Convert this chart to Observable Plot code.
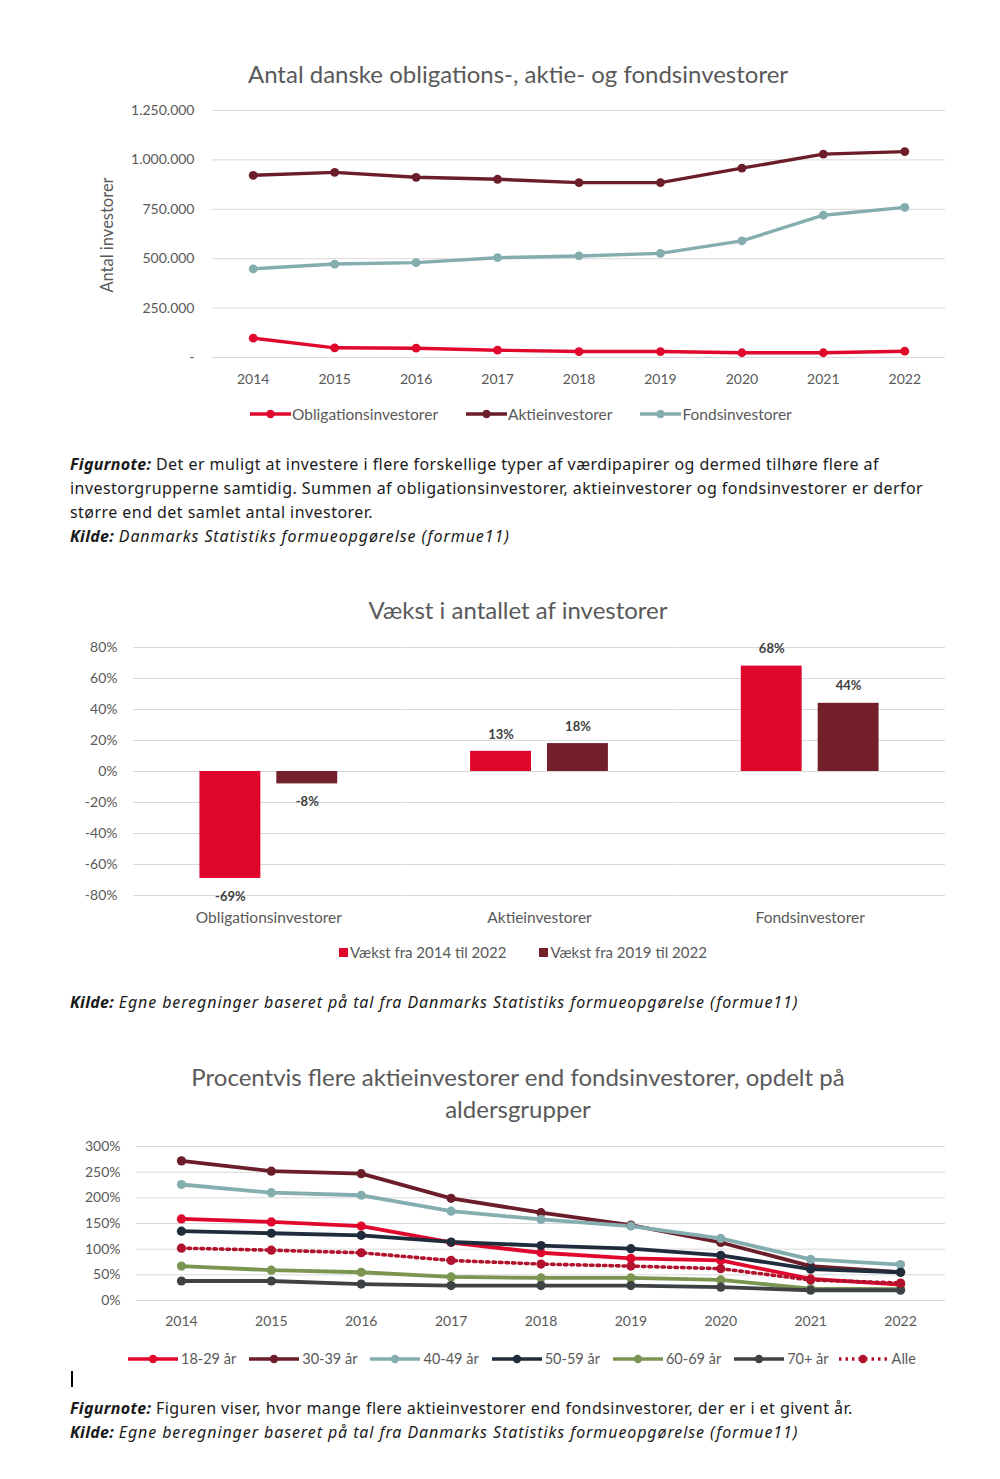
<!DOCTYPE html>
<html><head><meta charset="utf-8">
<script src="https://cdn.jsdelivr.net/npm/d3@7"></script>
<script src="https://cdn.jsdelivr.net/npm/@observablehq/plot@0.6"></script>
<style>
  html,body{margin:0;padding:0;background:#fff;}
  body{width:1000px;height:1479px;position:relative;overflow:hidden;font-family:Lato,"Open Sans",sans-serif;}
  .abs{position:absolute;}
  .title{left:0;width:1036px;text-align:center;color:#595959;font-size:24px;line-height:32px;}
  .note{left:70px;color:#1a1a1a;font-size:16px;line-height:24px;font-family:"Noto Sans",Lato,sans-serif;letter-spacing:0.45px;white-space:nowrap;}
  .note b{font-style:italic;letter-spacing:0.3px;}
  .note i{letter-spacing:0.9px;}
  .legend{color:#595959;font-size:15.5px;display:flex;align-items:center;white-space:nowrap;}
  .legend span.item{display:inline-flex;align-items:center;}
  svg text{font-family:Lato,"Open Sans",sans-serif;}
</style>
</head><body>
<div id="root"></div>
<script>
// ---------- Data ----------
const years = [2014, 2015, 2016, 2017, 2018, 2019, 2020, 2021, 2022];
const obligationsinvestorer = [98000, 49000, 47000, 37000, 30000, 30000, 24000, 24000, 32000];
const aktieinvestorer = [922000, 937000, 912000, 902000, 885000, 885000, 958000, 1029000, 1042000];
const fondsinvestorer = [449000, 473000, 480000, 505000, 514000, 527000, 590000, 720000, 760000];
const series1Names = ["Obligationsinvestorer", "Aktieinvestorer", "Fondsinvestorer"];
const series1Colors = ["#E0082C", "#6B1E2A", "#84ADB0"];
const yTicks1 = [0, 250000, 500000, 750000, 1000000, 1250000];

const growthCategories = ["Obligationsinvestorer", "Aktieinvestorer", "Fondsinvestorer"];
const growthSeries = ["Vækst fra 2014 til 2022", "Vækst fra 2019 til 2022"];
const growth2014to2022 = [-0.69, 0.13, 0.68];
const growth2019to2022 = [-0.08, 0.18, 0.44];
const growthColors = ["#E0052B", "#73202B"];
const yTicks2 = [-0.8, -0.6, -0.4, -0.2, 0, 0.2, 0.4, 0.6, 0.8];

const ageGroups = ["18-29 år", "30-39 år", "40-49 år", "50-59 år", "60-69 år", "70+ år", "Alle"];
const age18_29 = [1.59, 1.53, 1.45, 1.13, 0.93, 0.82, 0.78, 0.42, 0.31];
const age30_39 = [2.72, 2.52, 2.47, 1.99, 1.71, 1.47, 1.13, 0.67, 0.55];
const age40_49 = [2.26, 2.10, 2.05, 1.74, 1.58, 1.45, 1.21, 0.80, 0.70];
const age50_59 = [1.35, 1.31, 1.27, 1.14, 1.07, 1.01, 0.88, 0.61, 0.55];
const age60_69 = [0.67, 0.59, 0.55, 0.46, 0.44, 0.44, 0.40, 0.23, 0.22];
const age70plus = [0.38, 0.38, 0.32, 0.29, 0.29, 0.29, 0.26, 0.20, 0.20];
const ageAlle = [1.02, 0.98, 0.93, 0.78, 0.71, 0.67, 0.62, 0.40, 0.34];
const ageColors = ["#E0082C", "#6B1E2A", "#84ADB0", "#1E2C3B", "#7A9550", "#3E4245", "#B3122E"];
const yTicks3 = [0, 0.5, 1, 1.5, 2, 2.5, 3];

// ---------- Helpers ----------
function place(el, left, top) {
  el.style.position = "absolute"; el.style.left = left + "px"; el.style.top = top + "px";
  document.body.appendChild(el); return el;
}
function div(cls, html, left, top, extra) {
  const d = document.createElement("div");
  d.className = "abs " + cls; d.innerHTML = html;
  d.style.top = top + "px"; if (left != null) d.style.left = left + "px";
  if (extra) Object.assign(d.style, extra);
  document.body.appendChild(d); return d;
}
function lineSwatch(color, w, dotted) {
  const h = 12;
  const dash = dotted ? `stroke-dasharray="2.5 4" stroke-linecap="butt"` : "";
  return `<svg width="${w}" height="${h}" style="display:block"><line x1="0" x2="${w}" y1="${h/2}" y2="${h/2}" stroke="${color}" stroke-width="3.4" ${dash}/><circle cx="${w/2}" cy="${h/2}" r="4.2" fill="${color}"/></svg>`;
}
const daLocale = d3.formatLocale({decimal: ",", thousands: ".", grouping: [3], currency: ["", " kr."]});
const fmtThousands = daLocale.format(",d");
const pct = d => Math.round(d * 100) + "%";

// ---------- Chart 1 ----------
const data1 = [];
[obligationsinvestorer, aktieinvestorer, fondsinvestorer].forEach((arr, i) =>
  arr.forEach((v, j) => data1.push({serie: series1Names[i], year: String(years[j]), value: v})));

div("title", "Antal danske obligations-, aktie- og fondsinvestorer", 0, 58);

const chart1 = Plot.plot({
  width: 1000, height: 300,
  marginLeft: 212, marginRight: 55, marginTop: 15, marginBottom: 38,
  style: {background: "transparent", color: "#595959", fontSize: "14px"},
  x: {type: "point", domain: years.map(String), padding: 0.5, round: false, label: null, tickSize: 0, tickPadding: 17},
  y: {domain: [0, 1250000], ticks: yTicks1, tickFormat: d => d === 0 ? "-" : fmtThousands(d),
      tickSize: 0, tickPadding: 18, label: null},
  color: {domain: series1Names, range: series1Colors},
  marks: [
    Plot.gridY(yTicks1, {stroke: "#d9d9d9", strokeOpacity: 1, strokeWidth: 1}),
    Plot.lineY(data1, {x: "year", y: "value", stroke: "serie", strokeWidth: 3.4}),
    Plot.dot(data1, {x: "year", y: "value", fill: "serie", r: 4.4})
  ]
});
place(chart1, 0, 95);

div("", "Antal investorer", 107, 235, {transform: "translate(-50%,-50%) rotate(-90deg)", color: "#595959", fontSize: "16.5px", whiteSpace: "nowrap"});

div("legend", series1Names.map((n, i) =>
  `<span class="item" style="margin-right:28px">${lineSwatch(series1Colors[i], 41)}<span style="margin-left:1px">${n}</span></span>`).join(""),
  250, 405);

div("note", `<b>Figurnote:</b> Det er muligt at investere i flere forskellige typer af værdipapirer og dermed tilhøre flere af<br>investorgrupperne samtidig. Summen af obligationsinvestorer, aktieinvestorer og fondsinvestorer er derfor<br>større end det samlet antal investorer.<br><b>Kilde:</b> <i>Danmarks Statistiks formueopgørelse (formue11)</i>`, 70, 452);

// ---------- Chart 2 ----------
const data2 = [];
growthCategories.forEach((c, i) => {
  data2.push({category: c, serie: growthSeries[0], value: growth2014to2022[i]});
  data2.push({category: c, serie: growthSeries[1], value: growth2019to2022[i]});
});

div("title", "Vækst i antallet af investorer", 0, 594);

const chart2 = Plot.plot({
  width: 1000, height: 300,
  marginLeft: 133, marginRight: 55, marginTop: 17, marginBottom: 35,
  style: {background: "transparent", color: "#595959", fontSize: "14px"},
  fx: {domain: growthCategories, padding: 0, round: false, label: null, axis: null},
  x: {domain: growthSeries, paddingInner: 0.208, paddingOuter: 0.864, round: false, axis: null},
  y: {domain: [-0.8, 0.8], ticks: yTicks2, tickFormat: pct, tickSize: 0, tickPadding: 16, label: null},
  color: {domain: growthSeries, range: growthColors},
  marks: [
    Plot.gridY(yTicks2, {stroke: "#d9d9d9", strokeOpacity: 1}),
    Plot.axisFx({anchor: "bottom", tickSize: 0, tickPadding: 16, label: null, fontSize: 15.5}),
    Plot.barY(data2, {fx: "category", x: "serie", y: "value", fill: "serie"}),
    Plot.text(data2.filter(d => d.value >= 0), {fx: "category", x: "serie", y: "value", text: d => pct(d.value), dy: -17, fill: "#404040", fontWeight: "bold", fontSize: 13}),
    Plot.text(data2.filter(d => d.value < 0), {fx: "category", x: "serie", y: "value", text: d => pct(d.value), dy: 18, fill: "#404040", fontWeight: "bold", fontSize: 13})
  ]
});
place(chart2, 0, 630);

div("legend", growthSeries.map((n, i) =>
  `<span class="item" style="margin-right:33px"><span style="display:inline-block;width:9px;height:9px;background:${growthColors[i]};margin-right:2px"></span>${n}</span>`).join(""),
  339, 943, {fontSize: "15px"});

div("note", `<b>Kilde:</b> <i>Egne beregninger baseret på tal fra Danmarks Statistiks formueopgørelse (formue11)</i>`, 70, 990);

// ---------- Chart 3 ----------
const ageArrays = [age18_29, age30_39, age40_49, age50_59, age60_69, age70plus, ageAlle];
const data3 = [];
ageArrays.forEach((arr, i) => arr.forEach((v, j) => data3.push({group: ageGroups[i], year: String(years[j]), value: v})));

div("title", "Procentvis flere aktieinvestorer end fondsinvestorer, opdelt på<br>aldersgrupper", 0, 1061);

const solid = data3.filter(d => d.group !== "Alle");
const alle = data3.filter(d => d.group === "Alle");
const chart3 = Plot.plot({
  width: 1000, height: 200,
  marginLeft: 136, marginRight: 55, marginTop: 11, marginBottom: 35,
  style: {background: "transparent", color: "#595959", fontSize: "14px"},
  x: {type: "point", domain: years.map(String), padding: 0.5, round: false, label: null, tickSize: 0, tickPadding: 16},
  y: {domain: [0, 3], ticks: yTicks3, tickFormat: pct, tickSize: 0, tickPadding: 16, label: null},
  color: {domain: ageGroups, range: ageColors},
  marks: [
    Plot.gridY(yTicks3, {stroke: "#d9d9d9", strokeOpacity: 1}),
    Plot.lineY(solid, {x: "year", y: "value", z: "group", stroke: "group", strokeWidth: 3.8}),
    Plot.dot(solid, {x: "year", y: "value", fill: "group", r: 4.6}),
    Plot.lineY(alle, {x: "year", y: "value", stroke: "group", strokeWidth: 3.6, strokeDasharray: "2.5 4"}),
    Plot.dot(alle, {x: "year", y: "value", fill: "group", r: 4.6})
  ]
});
place(chart3, 0, 1135);

div("legend", ageGroups.map((n, i) =>
  `<span class="item" style="margin-right:${n === "70+ år" ? 10 : 13}px">${lineSwatch(ageColors[i], n === "Alle" ? 48 : 50, n === "Alle")}<span style="margin-left:${n === "Alle" ? 5 : 3}px">${n}</span></span>`).join(""),
  128, 1350, {fontSize: "14.5px"});

div("", "", 71, 1371, {width: "1.5px", height: "16px", background: "#000"});

div("note", `<b>Figurnote:</b> Figuren viser, hvor mange flere aktieinvestorer end fondsinvestorer, der er i et givent år.<br><b>Kilde:</b> <i>Egne beregninger baseret på tal fra Danmarks Statistiks formueopgørelse (formue11)</i>`, 70, 1396);
</script>
</body></html>
